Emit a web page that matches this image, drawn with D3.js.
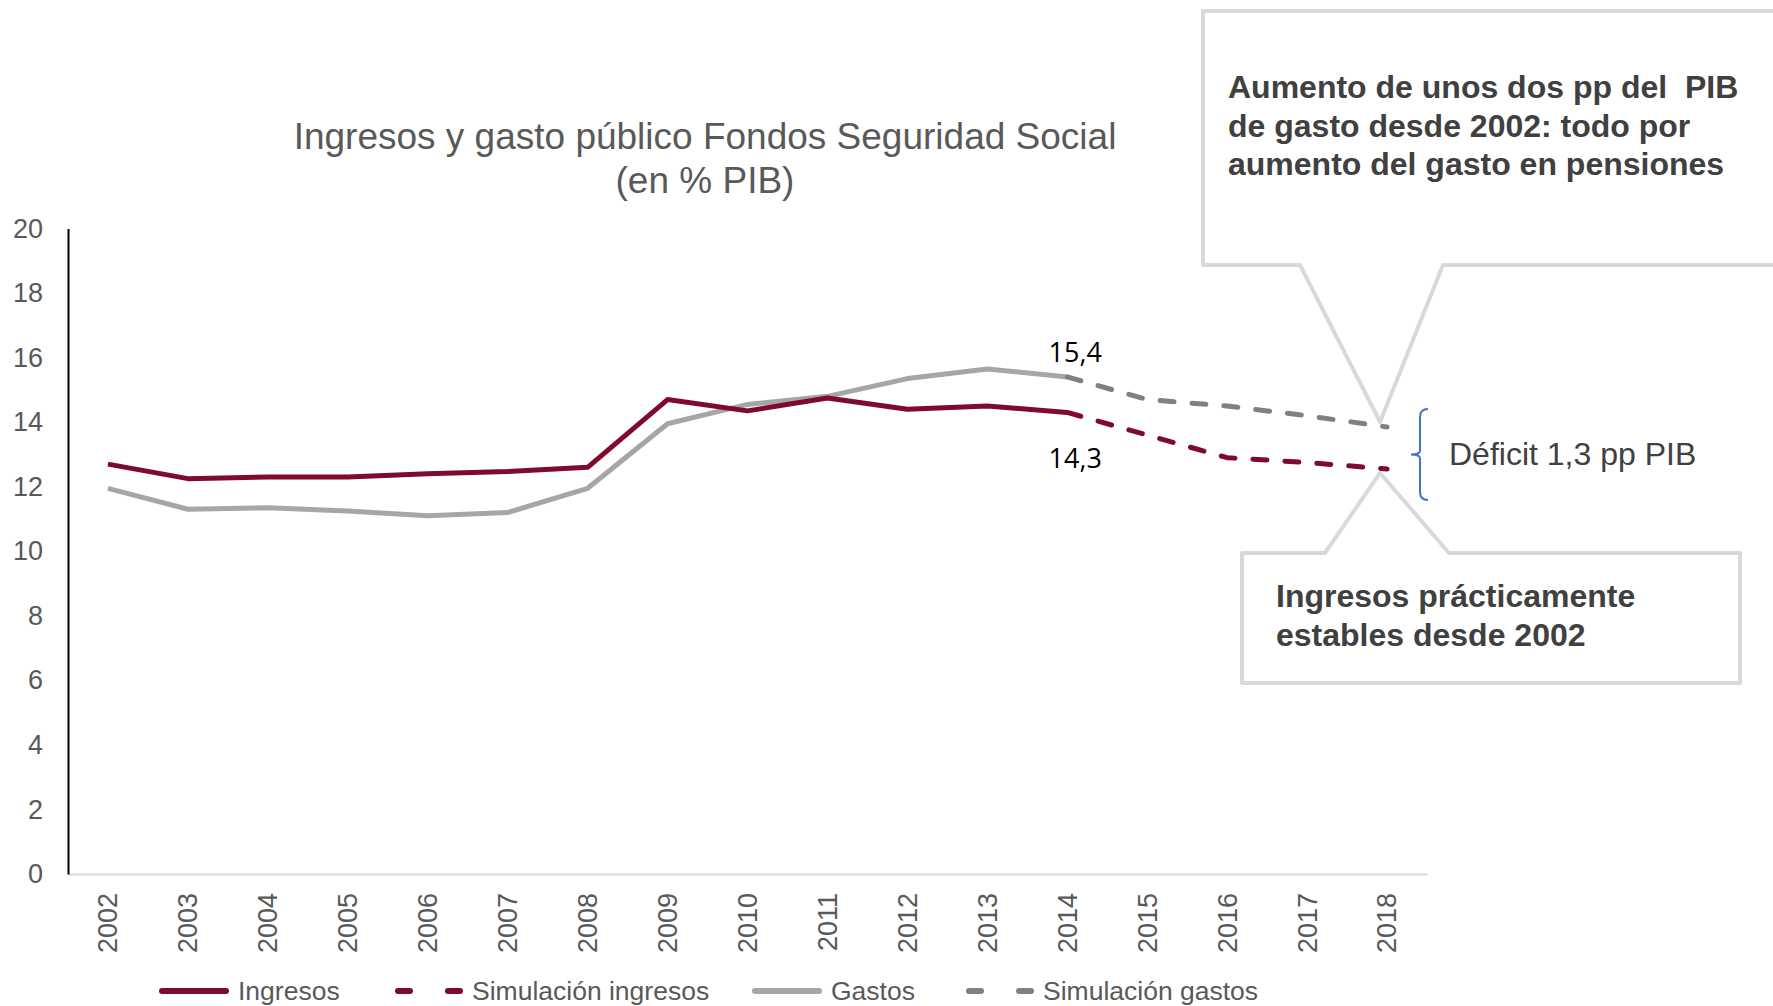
<!DOCTYPE html>
<html>
<head>
<meta charset="utf-8">
<script src="https://cdn.jsdelivr.net/npm/d3@7"></script>
<style>
    body { margin: 0; background: #fff; }
    svg { display: block; font-family: "Liberation Sans", Arial, sans-serif; }
</style>
</head>
<body>
<div id="chart"></div>
<script>
const years = ['2002', '2003', '2004', '2005', '2006', '2007', '2008', '2009', '2010',
    '2011', '2012', '2013', '2014', '2015', '2016', '2017', '2018'];
const histYears = years.slice(0, 13);
const simYears = years.slice(12);

const ingresos = [12.7, 12.25, 12.3, 12.3, 12.4, 12.47, 12.6, 14.7, 14.35, 14.75, 14.4, 14.5, 14.3];
const simIngresos = [14.3, 13.6, 12.9, 12.75, 12.55];
const gastos = [11.95, 11.3, 11.35, 11.25, 11.1, 11.2, 11.95, 13.95, 14.55, 14.8, 15.35, 15.65, 15.4];
const simGastos = [15.4, 14.7, 14.5, 14.2, 13.85];

const yTicks = [0, 2, 4, 6, 8, 10, 12, 14, 16, 18, 20];

const seriesNames = ['Ingresos', 'Simulación ingresos', 'Gastos', 'Simulación gastos'];

const titleLines = ['Ingresos y gasto público Fondos Seguridad Social', '(en % PIB)'];
const noteTop = ['Aumento de unos dos pp del  PIB', 'de gasto desde 2002: todo por', 'aumento del gasto en pensiones'];
const noteBottom = ['Ingresos prácticamente', 'estables desde 2002'];
const deficitText = 'Déficit 1,3 pp PIB';

const width = 1773;
const height = 1006;
const margin = {top: 228.5, left: 68, right: 346, bottom: 132};
const plotW = width - margin.left - margin.right;
const plotH = height - margin.top - margin.bottom;

const colIngresos = '#7f0a2b';
const colGastos = '#a6a6a6';
const colSimGastos = '#808080';
const textCol = '#595959';

const svg = d3.select('#chart')
    .append('svg')
    .attr('width', width)
    .attr('height', height);

const x = d3.scaleBand()
    .domain(years)
    .range([0, plotW]);

const y = d3.scaleLinear()
    .domain([0, 20])
    .range([plotH, 0]);

const cx = (yr) => margin.left + x(yr) + x.bandwidth() / 2;
const cy = (v) => margin.top + y(v);

// title
svg.append('g')
    .selectAll('text')
    .data(titleLines)
    .enter().append('text')
    .attr('x', 705)
    .attr('y', (d, i) => 149 + i * 44)
    .attr('text-anchor', 'middle')
    .attr('fill', textCol)
    .style('font-size', '37px')
    .text(d => d);

const g = svg.append('g')
    .attr('transform', `translate(${margin.left},${margin.top})`);

// x axis
const xAxis = d3.axisBottom(x).tickSize(0).tickPadding(0);
const gx = g.append('g')
    .attr('transform', `translate(0,${plotH})`)
    .call(xAxis);
gx.select('.domain').attr('stroke', '#d9d9d9').attr('stroke-width', 2);
gx.selectAll('text')
    .attr('transform', 'rotate(-90)')
    .attr('text-anchor', 'end')
    .attr('x', -19)
    .attr('y', 0)
    .attr('dy', '0.35em')
    .attr('fill', textCol)
    .style('font-size', '27px')
    .style('font-family', '"Liberation Sans", Arial, sans-serif');

// y axis
const yAxis = d3.axisLeft(y).tickValues(yTicks).tickSize(0).tickPadding(25);
const gy = g.append('g').call(yAxis);
gy.select('.domain').attr('stroke', '#000').attr('stroke-width', 2);
gy.selectAll('text')
    .attr('fill', textCol)
    .style('font-size', '27px')
    .style('font-family', '"Liberation Sans", Arial, sans-serif');

// lines
const line = d3.line()
    .x(d => x(d[0]) + x.bandwidth() / 2)
    .y(d => y(d[1]));

function drawLine(yrs, vals, color, dash) {
    g.append('path')
        .datum(d3.zip(yrs, vals))
        .attr('fill', 'none')
        .attr('stroke', color)
        .attr('stroke-width', 5)
        .attr('stroke-linejoin', 'round')
        .attr('stroke-linecap', dash ? 'round' : 'butt')
        .attr('stroke-dasharray', dash || null)
        .attr('d', line);
}

drawLine(histYears, gastos, colGastos);
drawLine(simYears, simGastos, colSimGastos, '14,18');
drawLine(histYears, ingresos, colIngresos);
drawLine(simYears, simIngresos, colIngresos, '14,18');

// data labels at 2014
const labels = [[simGastos[0], -14.5], [simIngresos[0], 56]];
g.selectAll('.dlabel')
    .data(labels)
    .enter().append('text')
    .attr('class', 'dlabel')
    .attr('x', x('2014') + x.bandwidth() / 2 + 8)
    .attr('y', d => y(d[0]) + d[1])
    .attr('text-anchor', 'middle')
    .attr('fill', '#000')
    .style('font-family', '"Open Sans", sans-serif')
    .style('font-size', '27px')
    .text(d => d3.format('.1f')(d[0]).replace('.', ','));

// callout top
const tipTop = [cx('2018') - 7, cy(simGastos[4]) - 5];
const boxTop = {x0: 1203, y0: 11, x1: 1790, y1: 265};
svg.append('path')
    .attr('d', `M${boxTop.x0},${boxTop.y0} H${boxTop.x1} V${boxTop.y1} H1443 L${tipTop[0]},${tipTop[1]} L1300,${boxTop.y1} H${boxTop.x0} Z`)
    .attr('fill', '#fff')
    .attr('stroke', '#d9d9d9')
    .attr('stroke-width', 4)
    .attr('stroke-linejoin', 'round');

svg.append('g')
    .selectAll('text')
    .data(noteTop)
    .enter().append('text')
    .attr('x', 1228)
    .attr('y', (d, i) => 98 + i * 38.5)
    .attr('fill', '#404040')
    .attr('xml:space', 'preserve')
    .style('white-space', 'pre')
    .style('font-weight', 'bold')
    .style('font-size', '32px')
    .text(d => d);

// callout bottom
const tipBot = [cx('2018') - 7, cy(simIngresos[4]) + 4];
const boxBot = {x0: 1242, y0: 553, x1: 1740, y1: 683};
svg.append('path')
    .attr('d', `M${boxBot.x0},${boxBot.y0} H1325 L${tipBot[0]},${tipBot[1]} L1449,${boxBot.y0} H${boxBot.x1} V${boxBot.y1} H${boxBot.x0} Z`)
    .attr('fill', '#fff')
    .attr('stroke', '#d9d9d9')
    .attr('stroke-width', 4)
    .attr('stroke-linejoin', 'round');

svg.append('g')
    .selectAll('text')
    .data(noteBottom)
    .enter().append('text')
    .attr('x', 1276)
    .attr('y', (d, i) => 607 + i * 38.5)
    .attr('fill', '#404040')
    .style('font-weight', 'bold')
    .style('font-size', '32px')
    .text(d => d);

// deficit brace
const braceTop = cy(simGastos[4]) - 18;
const braceBot = cy(simIngresos[4]) + 31;
const braceMid = (braceTop + braceBot) / 2;
svg.append('path')
    .attr('d', `M1428,${braceTop} Q1420,${braceTop} 1420,${braceTop + 8} V${braceMid - 4} Q1420,${braceMid} 1411,${braceMid} Q1420,${braceMid} 1420,${braceMid + 4} V${braceBot - 8} Q1420,${braceBot} 1428,${braceBot}`)
    .attr('fill', 'none')
    .attr('stroke', '#4472c4')
    .attr('stroke-width', 2);

svg.append('text')
    .attr('x', 1449)
    .attr('y', 465)
    .attr('fill', '#404040')
    .style('font-size', '32px')
    .text(deficitText);

// legend
const legendX = [162, 396, 755, 967];
const legendColors = [colIngresos, colIngresos, colGastos, colSimGastos];
const legendDash = [null, '12,38', null, '12,38'];
const legend = svg.append('g')
    .attr('transform', 'translate(0,991)');

const items = legend.selectAll('g')
    .data(seriesNames)
    .enter().append('g')
    .attr('transform', (d, i) => `translate(${legendX[i]},0)`);

items.append('line')
    .attr('x1', (d, i) => legendDash[i] ? 2 : 0)
    .attr('x2', 64)
    .attr('y1', 0)
    .attr('y2', 0)
    .attr('stroke', (d, i) => legendColors[i])
    .attr('stroke-width', 6)
    .attr('stroke-linecap', 'round')
    .attr('stroke-dasharray', (d, i) => legendDash[i]);

items.append('text')
    .attr('x', 76)
    .attr('y', 0)
    .attr('dy', '0.35em')
    .attr('fill', textCol)
    .style('font-size', '26.5px')
    .text(d => d);
</script>
</body>
</html>
